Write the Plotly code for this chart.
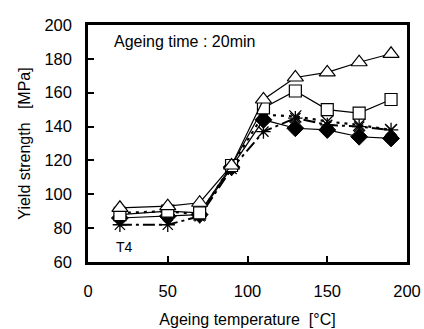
import plotly.graph_objects as go

temps = [20, 50, 70, 90, 110, 130, 150, 170, 190]
s_triangle = [92, 93, 95, 117, 156, 169, 172, 178, 183]
s_square = [88, 90, 89, 117, 151, 161, 150, 148, 156]
s_diamond = [86, 87, 88, 116, 144, 139, 138, 134, 133]
s_cross = [89, 90, 88, 117, 147, 146, 143, 141, 138]
s_star = [82, 82, 87, 115, 137, 145, 141, 140, 138]

x_ticks = [0, 50, 100, 150, 200]
y_ticks = [60, 80, 100, 120, 140, 160, 180, 200]

fig = go.Figure()

fig.add_trace(go.Scatter(
    x=temps, y=s_star, mode="lines+markers",
    line=dict(color="black", width=2, dash="12px,4px,3px,4px"),
    marker=dict(symbol="asterisk-open", size=12, line=dict(color="black", width=1.3)),
))
fig.add_trace(go.Scatter(
    x=temps, y=s_cross, mode="lines+markers",
    line=dict(color="black", width=2.2, dash="3px,5px"),
    marker=dict(symbol="x-thin-open", size=12, line=dict(color="black", width=1.3)),
))
fig.add_trace(go.Scatter(
    x=temps, y=s_diamond, mode="lines+markers",
    line=dict(color="black", width=1.2),
    marker=dict(symbol="diamond", size=13, color="black", line=dict(color="black", width=1)),
))
fig.add_trace(go.Scatter(
    x=temps, y=s_square, mode="lines+markers",
    line=dict(color="black", width=1.2),
    marker=dict(symbol="square", size=12, color="white", line=dict(color="black", width=1.2)),
))
fig.add_trace(go.Scatter(
    x=temps, y=s_triangle, mode="lines+markers",
    line=dict(color="black", width=1.2),
    marker=dict(symbol="triangle-up", size=14, color="white", line=dict(color="black", width=1.2)),
))

fam = "Liberation Sans, Arial, sans-serif"
tick_font = dict(family=fam, size=16.5, color="black")
title_font = dict(family=fam, size=16, color="black")

fig.update_layout(
    width=424, height=329,
    margin=dict(l=88, r=17, t=25, b=67, autoexpand=False),
    paper_bgcolor="white", plot_bgcolor="white",
    showlegend=False,
    font=title_font,
    xaxis=dict(
        range=[0, 200], tickvals=x_ticks, ticks="inside", ticklen=6, tickwidth=2,
        tickcolor="black", showgrid=False, zeroline=False, automargin=False,
        showline=True, linecolor="black", linewidth=2.5, mirror=True,
        title=dict(text="Ageing temperature  [°C]", font=title_font, standoff=16),
        tickfont=tick_font, ticklabelstandoff=12,
    ),
    yaxis=dict(
        range=[60, 200], tickvals=y_ticks, ticks="inside", ticklen=6, tickwidth=2,
        tickcolor="black", showgrid=False, zeroline=False, automargin=False,
        showline=True, linecolor="black", linewidth=2.5, mirror=True,
        title=dict(text="Yield strength   [MPa]", font=title_font, standoff=10),
        tickfont=tick_font, ticklabelstandoff=10,
    ),
    annotations=[
        dict(x=15, y=190, xref="x", yref="y", text="Ageing time : 20min",
             showarrow=False, xanchor="left", yanchor="middle", font=title_font),
        dict(x=16, y=69, xref="x", yref="y", text="T4",
             showarrow=False, xanchor="left", yanchor="middle",
             font=dict(family=fam, size=14, color="black")),
    ],
)

fig.write_html("out.html")
